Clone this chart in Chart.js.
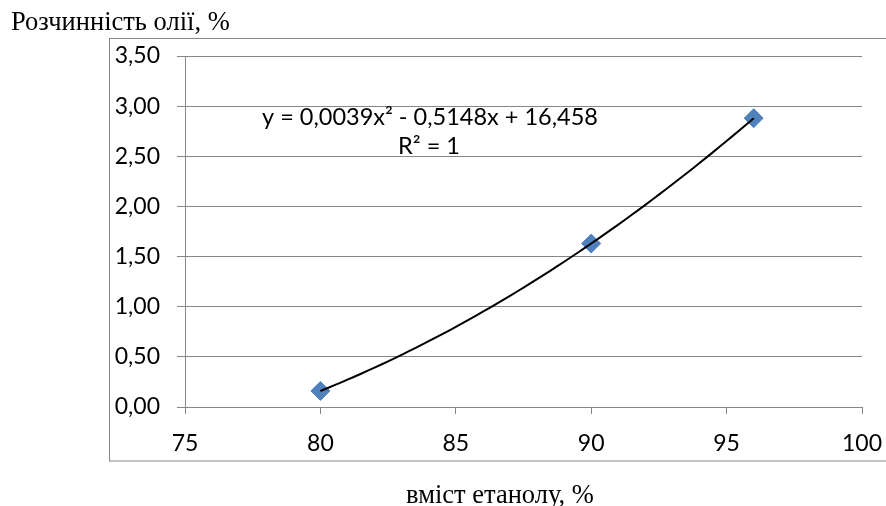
<!DOCTYPE html>
<html><head><meta charset="utf-8">
<script src="https://cdn.jsdelivr.net/npm/chart.js@4.4.1/dist/chart.umd.min.js"></script>
<style>html,body{margin:0;padding:0;background:#fff;overflow:hidden}#wrap{width:886px;height:506px;position:relative}</style>
</head><body><div id="wrap"><canvas id="c" width="886" height="506"></canvas></div>
<script>
// ---- data ----
const ethanol = [80, 90, 96];              // вміст етанолу, %
const solubility = [0.16, 1.63, 2.88];     // Розчинність олії, %
const xTickValues = [75, 80, 85, 90, 95, 100];
const yTickValues = [0, 0.5, 1, 1.5, 2, 2.5, 3, 3.5];
const xAxisTitle = 'вміст етанолу, %';
const yAxisTitle = 'Розчинність олії, %';
const equationLines = ['y = 0,0039x² - 0,5148x + 16,458', 'R² = 1'];

// ---- polynomial (order 2) trendline fitted to the data, as the original chart does ----
function fitQuadratic(xs, ys) {
  let S = [0,0,0,0,0], T = [0,0,0];
  for (let i = 0; i < xs.length; i++) {
    let p = 1;
    for (let k = 0; k < 5; k++) { S[k] += p; p *= xs[i]; }
    T[0] += ys[i]; T[1] += ys[i]*xs[i]; T[2] += ys[i]*xs[i]*xs[i];
  }
  const M = [[S[4],S[3],S[2],T[2]],[S[3],S[2],S[1],T[1]],[S[2],S[1],S[0],T[0]]];
  for (let i = 0; i < 3; i++) {
    for (let j = i+1; j < 3; j++) {
      const f = M[j][i]/M[i][i];
      for (let k = i; k < 4; k++) M[j][k] -= f*M[i][k];
    }
  }
  const r = [0,0,0];
  for (let i = 2; i >= 0; i--) {
    let s = M[i][3];
    for (let k = i+1; k < 3; k++) s -= M[i][k]*r[k];
    r[i] = s/M[i][i];
  }
  return r; // [a,b,c]
}
const coef = fitQuadratic(ethanol, solubility);
const trend = [];
const xMin = Math.min(...ethanol), xMax = Math.max(...ethanol);
for (let x = xMin; x <= xMax + 1e-9; x += 0.25) {
  trend.push({x: x, y: coef[0]*x*x + coef[1]*x + coef[2]});
}

const GRAY = '#868686';
const TICK_FONT = {family: 'Lato', size: 23};

const decor = {
  id: 'decor',
  afterDraw(chart) {
    const ctx = chart.ctx;
    ctx.save();
    ctx.strokeStyle = GRAY;
    ctx.lineWidth = 1;
    ctx.strokeRect(109.5, 38.5, 820, 422.5);
    ctx.fillStyle = '#000';
    ctx.font = '26.5px "Liberation Serif"';
    ctx.textAlign = 'left';
    ctx.textBaseline = 'alphabetic';
    ctx.fillText(yAxisTitle, 11, 30);
    ctx.textAlign = 'center';
    ctx.fillText(xAxisTitle, 500, 503);
    ctx.font = '23.5px Lato';
    ctx.textBaseline = 'middle';
    ctx.fillText(equationLines[0], 430, 117);
    ctx.fillText(equationLines[1], 429, 146);
    ctx.restore();
  }
};

new Chart(document.getElementById('c'), {
  type: 'scatter',
  data: {
    datasets: [
      {
        label: 'trend',
        data: trend,
        showLine: true,
        borderColor: '#000',
        borderWidth: 2,
        pointRadius: 0,
        tension: 0,
        order: 0
      },
      {
        label: 'data',
        data: ethanol.map((x, i) => ({x: x, y: solubility[i]})),
        pointStyle: 'rectRot',
        pointRadius: 9.5,
        backgroundColor: '#4F81BD',
        borderColor: '#4F81BD',
        borderWidth: 1,
        order: 1
      }
    ]
  },
  plugins: [decor],
  options: {
    responsive: false,
    animation: false,
    devicePixelRatio: 1,
    layout: {padding: {left: 109, top: 56, right: 24, bottom: 45}},
    plugins: {legend: {display: false}, tooltip: {enabled: false}, title: {display: false}},
    scales: {
      x: {
        type: 'linear', min: 75, max: 100,
        afterBuildTicks: s => { s.ticks = xTickValues.map(v => ({value: v})); },
        afterFit: s => { s.height = 54; s.paddingLeft = 0; s.paddingRight = 0; },
        ticks: {font: TICK_FONT, color: '#000', padding: 16, callback: v => String(v), maxRotation: 0},
        grid: {drawOnChartArea: false, drawTicks: true, tickLength: 7, color: GRAY},
        border: {color: GRAY, width: 1}
      },
      y: {
        type: 'linear', min: 0, max: 3.5,
        afterBuildTicks: s => { s.ticks = yTickValues.map(v => ({value: v})); },
        afterFit: s => { s.width = 76; s.paddingTop = 0; s.paddingBottom = 0; },
        ticks: {font: TICK_FONT, color: '#000', padding: 17, callback: v => Number(v).toFixed(2).replace('.', ',')},
        grid: {color: GRAY, tickLength: 8},
        border: {color: GRAY, width: 1}
      }
    }
  }
});
</script>
</body></html>
